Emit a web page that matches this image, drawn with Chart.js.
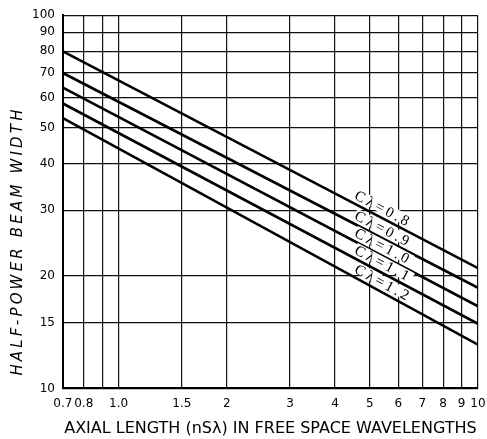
<!DOCTYPE html>
<html>
<head>
<meta charset="utf-8">
<script src="https://cdn.jsdelivr.net/npm/chart.js@4"></script>
<style>
  html, body { margin: 0; padding: 0; background: #fff; }
  #wrap { width: 487px; height: 439px; }
</style>
</head>
<body>
<div id="wrap"><canvas id="beamChart"></canvas></div>
<script>
// axial length (nS lambda) where each line is read, and the beam widths there
const axialLength = [0.7, 10];
const beam08 = [80, 21];
const beam09 = [70, 18.6];
const beam10 = [64, 16.6];
const beam11 = [58, 14.9];
const beam12 = [53, 13.1];
const curveNames = ['Cλ=0.8', 'Cλ=0.9', 'Cλ=1.0', 'Cλ=1.1', 'Cλ=1.2'];

const xTicks = [0.7, 0.8, 0.9, 1.0, 1.5, 2, 3, 4, 5, 6, 7, 8, 9, 10];
const xTickLabels = ['0.7', '0.8', '', '1.0', '1.5', '2', '3', '4', '5', '6', '7', '8', '9', '10'];
const yTicks = [10, 15, 20, 30, 40, 50, 60, 70, 80, 90, 100];
const yTitle = 'HALF-POWER BEAM WIDTH';

const labelAt = 4.45; // x value where the curve labels start

const toPoints = (ys) => axialLength.map((x, i) => ({ x: x, y: ys[i] }));

const datasets = [beam08, beam09, beam10, beam11, beam12].map((ys, i) => ({
    label: curveNames[i],
    data: toPoints(ys),
    showLine: true,
    borderColor: '#000',
    borderWidth: 2.6,
    pointRadius: 0,
    fill: false
}));

// write the C-lambda names along each line, just above it
const curveLabels = {
    id: 'curveLabels',
    afterDatasetsDraw(chart) {
        const ctx = chart.ctx;
        const xs = chart.scales.x;
        chart.data.datasets.forEach((ds, i) => {
            const pts = chart.getDatasetMeta(i).data;
            const p0 = pts[0], p1 = pts[1];
            const px = xs.getPixelForValue(labelAt);
            const t = (px - p0.x) / (p1.x - p0.x);
            const py = p0.y + t * (p1.y - p0.y);
            const ang = Math.atan2(p1.y - p0.y, p1.x - p0.x);
            ctx.save();
            ctx.translate(px, py);
            ctx.rotate(ang);
            ctx.font = '15px "Liberation Serif", serif';
            if ('letterSpacing' in ctx) ctx.letterSpacing = '3px';
            ctx.textAlign = 'left';
            ctx.textBaseline = 'alphabetic';
            const w = ctx.measureText(ds.label).width;
            ctx.fillStyle = '#fff';
            ctx.fillRect(-1, -15, w + 2, 11);
            ctx.fillStyle = '#000';
            ctx.fillText(ds.label, 0, -4);
            ctx.restore();
        });
    }
};

// the y title is spread out wider than a plain axis title, so draw it here
const spacedYTitle = {
    id: 'spacedYTitle',
    afterDraw(chart) {
        const ctx = chart.ctx;
        ctx.save();
        ctx.translate(18, 241);
        ctx.rotate(-Math.PI / 2);
        ctx.font = 'italic 15px "DejaVu Sans", sans-serif';
        const plain = ctx.measureText(yTitle).width;
        if ('letterSpacing' in ctx) {
            ctx.letterSpacing = Math.max(0, (266 - plain) / (yTitle.length - 1)) + 'px';
        }
        ctx.fillStyle = '#000';
        ctx.textAlign = 'center';
        ctx.textBaseline = 'middle';
        ctx.fillText(yTitle, 0, 0);
        ctx.restore();
    }
};

new Chart(document.getElementById('beamChart'), {
    type: 'scatter',
    data: { datasets: datasets },
    plugins: [curveLabels, spacedYTitle],
    options: {
        responsive: true,
        maintainAspectRatio: false,
        animation: false,
        layout: { padding: { top: 8, right: 9, bottom: 0, left: 24 } },
        plugins: {
            legend: { display: false },
            tooltip: { enabled: false }
        },
        scales: {
            x: {
                type: 'logarithmic',
                min: 0.7,
                max: 10,
                afterBuildTicks: (scale) => {
                    scale.ticks = xTicks.map(v => ({ value: v }));
                },
                // let the "10" label hang past the right edge like the original
                afterFit: (scale) => {
                    scale.paddingRight = 0;
                },
                ticks: {
                    autoSkip: false,
                    maxRotation: 0,
                    padding: 8,
                    color: '#000',
                    font: { family: '"DejaVu Sans", sans-serif', size: 12 },
                    callback: (value, index) => xTickLabels[index]
                },
                grid: { color: '#111', lineWidth: 1.2, drawTicks: false },
                border: { color: '#000', width: 2 },
                title: {
                    display: true,
                    text: 'AXIAL LENGTH (nSλ) IN FREE SPACE WAVELENGTHS',
                    color: '#000',
                    font: { family: '"DejaVu Sans", sans-serif', size: 16 },
                    padding: { top: 0, bottom: 1 }
                }
            },
            y: {
                type: 'logarithmic',
                min: 10,
                max: 100,
                afterBuildTicks: (scale) => {
                    scale.ticks = yTicks.map(v => ({ value: v }));
                },
                ticks: {
                    autoSkip: false,
                    padding: 8,
                    color: '#000',
                    font: { family: '"DejaVu Sans", sans-serif', size: 12 },
                    callback: (value, index) => String(yTicks[index])
                },
                grid: { color: '#111', lineWidth: 1.2, drawTicks: false },
                border: { color: '#000', width: 2 },
                title: { display: false }
            }
        }
    }
});
</script>
</body>
</html>
